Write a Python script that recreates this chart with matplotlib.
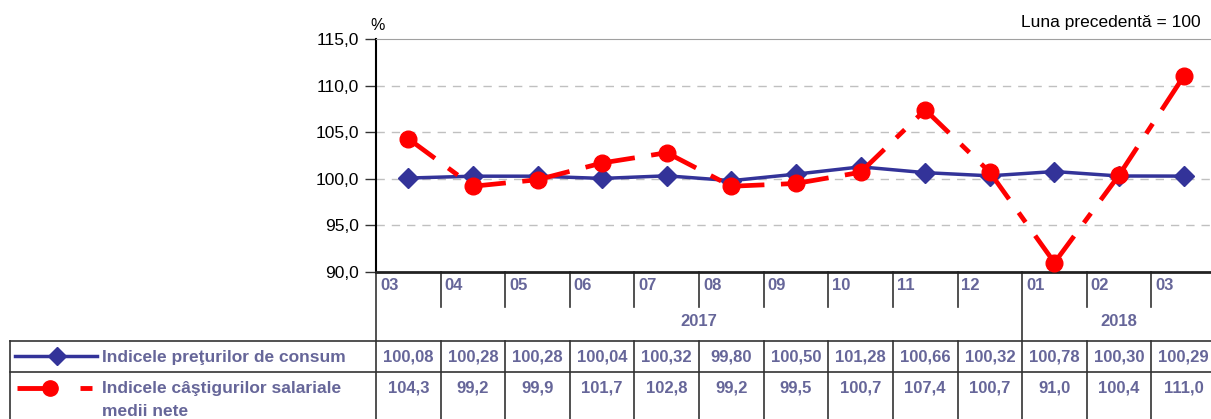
import matplotlib.pyplot as plt
from matplotlib import transforms

plt.rcParams['font.family'] = ['Liberation Sans', 'DejaVu Sans']

months = ['03', '04', '05', '06', '07', '08', '09', '10', '11', '12', '01', '02', '03']
years = ['2017', '2018']
year_span = [(0, 9), (10, 12)]
cpi = [100.08, 100.28, 100.28, 100.04, 100.32, 99.80, 100.50, 101.28, 100.66, 100.32, 100.78, 100.30, 100.29]
wage = [104.3, 99.2, 99.9, 101.7, 102.8, 99.2, 99.5, 100.7, 107.4, 100.7, 91.0, 100.4, 111.0]
yticks = [90, 95, 100, 105, 110, 115]

W, H = 1211, 419
BLUE = '#333399'
RED = '#ff0000'
TXT = '#666699'

fig = plt.figure(figsize=(W / 100, H / 100), dpi=100)
ax = fig.add_axes([376 / W, 1 - 272 / H, 840 / W, 233 / H])

def fy(y):
    # pixel row -> figure fraction
    return 1 - y / H

n = len(months)
xs = list(range(n))
ax.set_xlim(-0.5, n - 0.5)
ax.set_ylim(90, 115)

# grid
for v in yticks[1:-1]:
    ax.axhline(v, color='#c0c0c0', lw=1, dashes=(6, 5), zorder=0)

# cpi line
ax.plot(xs, cpi, color=BLUE, lw=2.5, marker='D', ms=10, mfc=BLUE, mec=BLUE, zorder=3)

# wage line, dash pattern restarts on every segment like in excel
for i in range(n - 1):
    ax.plot(xs[i:i + 2], wage[i:i + 2], color=RED, lw=3.4, dashes=(7, 3.5, 2.5, 3.5),
            solid_capstyle='butt', dash_capstyle='butt', zorder=4)
ax.plot(xs, wage, ls='none', marker='o', ms=12, mfc=RED, mec=RED, zorder=5)

ax.spines['right'].set_visible(False)
ax.spines['top'].set_color('#a0a0a0')
ax.spines['left'].set_color('black')
ax.spines['left'].set_linewidth(1.5)
ax.spines['bottom'].set_color('#222222')
ax.spines['bottom'].set_linewidth(2)
ax.set_xticks([])
ax.set_yticks(yticks)
ax.set_yticklabels([f'{v:.1f}'.replace('.', ',') for v in yticks], fontsize=12.5)
ax.tick_params(axis='y', length=8, width=1, color='#333333', pad=4)

fig.text(370 / W, fy(26), '%', fontsize=11.5, ha='left', va='center')
fig.text(1201 / W, fy(22), 'Luna precedentă = 100', fontsize=12.5, ha='right', va='center')

# table below the chart
tr = transforms.blended_transform_factory(ax.transData, fig.transFigure)
lkw = dict(transform=tr, clip_on=False, color='#333333', lw=1.2)

ax.plot([-0.5, -0.5], [fy(272), fy(419)], **lkw)
for i in range(n - 1):
    b = i + 0.5
    if i == year_span[0][1]:
        ax.plot([b, b], [fy(272), fy(419)], **lkw)
    else:
        ax.plot([b, b], [fy(272), fy(307)], **lkw)
        ax.plot([b, b], [fy(341), fy(419)], **lkw)

for i, m in enumerate(months):
    ax.text(i - 0.44, fy(286), m, transform=tr, fontsize=12, fontweight='bold',
            color=TXT, ha='left', va='center')
    ax.text(i, fy(357), f'{cpi[i]:.2f}'.replace('.', ','), transform=tr, fontsize=12,
            fontweight='bold', color=TXT, ha='center', va='center')
    ax.text(i, fy(388), f'{wage[i]:.1f}'.replace('.', ','), transform=tr, fontsize=12,
            fontweight='bold', color=TXT, ha='center', va='center')

for yr, (a, b) in zip(years, year_span):
    ax.text((a + b) / 2, fy(322), yr, transform=tr, fontsize=12, fontweight='bold',
            color=TXT, ha='center', va='center')

# horizontal rules of the legend rows
for y in [341, 372]:
    fig.add_artist(plt.Line2D([10 / W, 1], [fy(y), fy(y)], color='#333333', lw=1.2))
fig.add_artist(plt.Line2D([10 / W, 10 / W], [fy(341), fy(419)], color='#333333', lw=1.2))

# legend cell
fig.add_artist(plt.Line2D([15 / W, 97 / W], [fy(356), fy(356)], color=BLUE, lw=2.5))
fig.add_artist(plt.Line2D([57 / W], [fy(356)], marker='D', ms=9.5, color=BLUE, ls='none'))
fig.add_artist(plt.Line2D([17 / W, 50 / W], [fy(388), fy(388)], color=RED, lw=3.5,
                          solid_capstyle='butt'))
fig.add_artist(plt.Line2D([80 / W, 92 / W], [fy(388), fy(388)], color=RED, lw=3.5,
                          solid_capstyle='butt'))
fig.add_artist(plt.Line2D([50 / W], [fy(388)], marker='o', ms=11, color=RED, ls='none'))

fig.text(102 / W, fy(357), 'Indicele preţurilor de consum', fontsize=12.5,
         fontweight='bold', color=TXT, ha='left', va='center')
fig.text(102 / W, fy(388), 'Indicele câştigurilor salariale', fontsize=12.5,
         fontweight='bold', color=TXT, ha='left', va='center')
fig.text(102 / W, fy(411), 'medii nete', fontsize=12.5,
         fontweight='bold', color=TXT, ha='left', va='center')

fig.savefig('out.png', dpi=100)
